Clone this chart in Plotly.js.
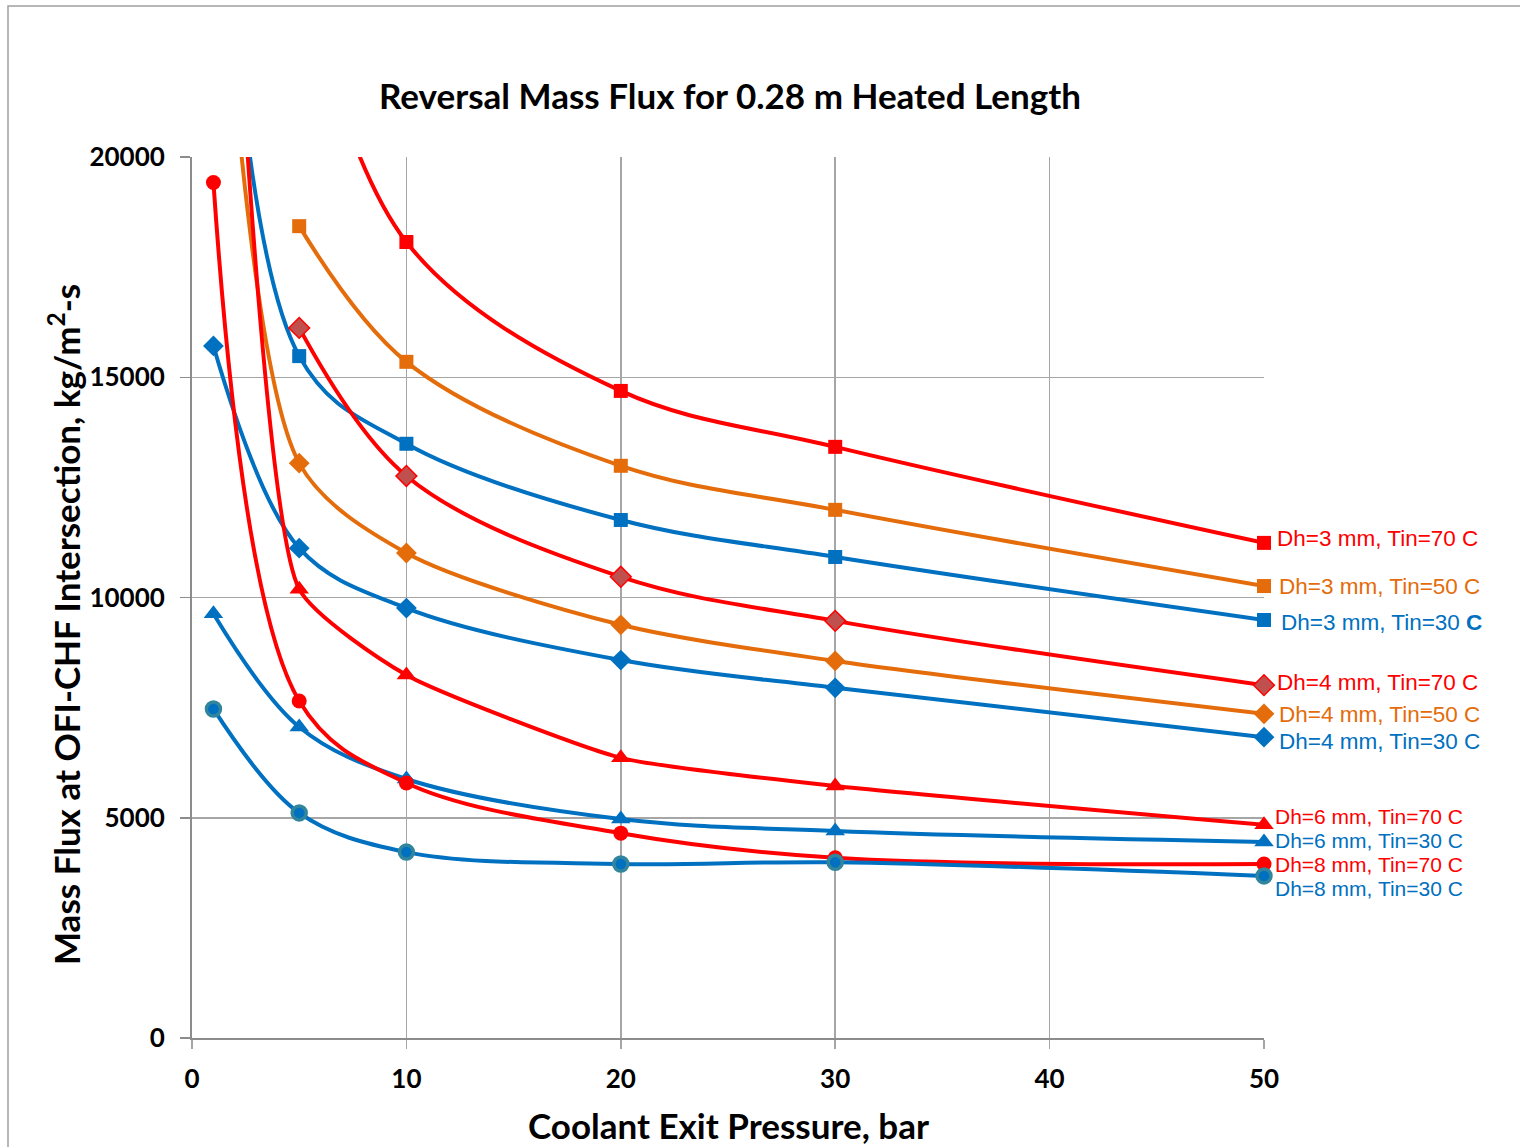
<!DOCTYPE html>
<html>
<head>
<meta charset="utf-8">
<script src="https://cdn.plot.ly/plotly-3.0.1.min.js"></script>
<style>body{margin:0;background:#fff;} #chart{width:1520px;height:1147px;}</style>
</head>
<body>
<div id="chart"></div>
<script>
// Coolant exit pressure, bar  /  Mass flux, kg/m2-s
const x_3mm_70 = [5, 10, 20, 30, 50];
const y_3mm_70 = [24500, 18070, 14690, 13420, 11240];
const x_3mm_50 = [5, 10, 20, 30, 50];
const y_3mm_50 = [18430, 15350, 12990, 11990, 10260];
const x_3mm_30 = [1, 5, 10, 20, 30, 50];
const y_3mm_30 = [31500, 15480, 13490, 11760, 10920, 9490];
const x_4mm_70 = [5, 10, 20, 30, 50];
const y_4mm_70 = [16120, 12760, 10470, 9470, 8010];
const x_4mm_50 = [1, 5, 10, 20, 30, 50];
const y_4mm_50 = [28000, 13050, 11010, 9380, 8560, 7360];
const x_4mm_30 = [1, 5, 10, 20, 30, 50];
const y_4mm_30 = [15710, 11120, 9760, 8580, 7950, 6830];
const x_6mm_70 = [1, 5, 10, 20, 30, 50];
const y_6mm_70 = [34000, 10190, 8240, 6360, 5720, 4840];
const x_6mm_30 = [1, 5, 10, 20, 30, 50];
const y_6mm_30 = [9630, 7060, 5880, 4970, 4700, 4450];
const x_8mm_70 = [1, 5, 10, 20, 30, 50];
const y_8mm_70 = [19420, 7650, 5790, 4650, 4090, 3950];
const x_8mm_30 = [1, 5, 10, 20, 30, 50];
const y_8mm_30 = [7470, 5110, 4220, 3950, 3990, 3680];

const seriesNames = ["Dh=3 mm, Tin=70 C", "Dh=3 mm, Tin=50 C", "Dh=3 mm, Tin=30 C",
  "Dh=4 mm, Tin=70 C", "Dh=4 mm, Tin=50 C", "Dh=4 mm, Tin=30 C",
  "Dh=6 mm, Tin=70 C", "Dh=6 mm, Tin=30 C", "Dh=8 mm, Tin=70 C", "Dh=8 mm, Tin=30 C"];
const labelTexts = ["Dh=3 mm, Tin=70 C", "Dh=3 mm, Tin=50 C", "Dh=3 mm, Tin=30 <b>C</b>",
  "Dh=4 mm, Tin=70 C", "Dh=4 mm, Tin=50 C", "Dh=4 mm, Tin=30 C",
  "Dh=6 mm, Tin=70 C", "Dh=6 mm, Tin=30 C", "Dh=8 mm, Tin=70 C", "Dh=8 mm, Tin=30 C"];

const YMAX = 20000;
const RED = "#FF0000", ORANGE = "#E46C0A", BLUE = "#0070C0";

function tr(x, y, name, color, symbol, size, smoothing, mfill, mline, mlw) {
  return {
    x: x, y: y, name: name, type: "scatter", mode: "lines+markers",
    line: {color: color, width: 4, shape: "spline", smoothing: smoothing},
    marker: {symbol: symbol, size: y.map(v => v > YMAX ? 0 : size), opacity: 1,
      color: mfill || color, line: {color: mline || color, width: mlw || 0}},
    cliponaxis: false, showlegend: false
  };
}

const data = [
  tr(x_3mm_70, y_3mm_70, seriesNames[0], RED, "square", 14, 1),
  tr(x_3mm_50, y_3mm_50, seriesNames[1], ORANGE, "square", 14, 1),
  tr(x_3mm_30, y_3mm_30, seriesNames[2], BLUE, "square", 14, 1),
  tr(x_4mm_70, y_4mm_70, seriesNames[3], RED, "diamond", 16, 1, "#C0504D", RED, 1.5),
  tr(x_4mm_50, y_4mm_50, seriesNames[4], ORANGE, "diamond", 16, 0.8),
  tr(x_4mm_30, y_4mm_30, seriesNames[5], BLUE, "diamond", 16, 1),
  tr(x_6mm_70, y_6mm_70, seriesNames[6], RED, "triangle-up", 17, 0.5),
  tr(x_6mm_30, y_6mm_30, seriesNames[7], BLUE, "triangle-up", 17, 1),
  tr(x_8mm_70, y_8mm_70, seriesNames[8], RED, "circle", 15, 1),
  tr(x_8mm_30, y_8mm_30, seriesNames[9], BLUE, "circle", 14, 1, BLUE, "#31859C", 3.5)
];

// plot area: left 192, right 1264, top 157, bottom 1038
const L = 192, R = 1264, T = 157, B = 1038;
const px = v => (v - L) / (R - L);
const py = v => (B - v) / (B - T);

const labelColors = [RED, ORANGE, BLUE, RED, ORANGE, BLUE, RED, BLUE, RED, BLUE];
const labelX = [1275, 1277, 1279, 1275, 1277, 1277, 1273, 1273, 1273, 1273];
const labelY = [538, 586, 622, 682, 715, 741, 816, 840, 864, 888];
const labelSize = [22.5, 22.5, 22.5, 22.5, 22.5, 22.5, 21, 21, 21, 21];

const annotations = labelTexts.map((t, i) => ({
  text: t, xref: "paper", yref: "paper", x: px(labelX[i]), y: py(labelY[i]),
  xanchor: "left", yanchor: "middle", showarrow: false,
  font: {family: "Liberation Sans, Arial, sans-serif", size: labelSize[i], color: labelColors[i]}
}));

annotations.push({
  text: "Mass Flux at OFI-CHF Intersection, kg/m<sup>2</sup>-s",
  xref: "paper", yref: "paper", x: px(64), y: py(625), textangle: -90,
  xanchor: "center", yanchor: "middle", showarrow: false,
  font: {family: "Lato, sans-serif", size: 35, color: "#000", weight: "bold"}
});
annotations.push({
  text: "Coolant Exit Pressure, bar",
  xref: "paper", yref: "paper", x: px(728), y: py(1125),
  xanchor: "center", yanchor: "middle", showarrow: false,
  font: {family: "Lato, sans-serif", size: 35, color: "#000", weight: "bold"}
});
annotations.push({
  text: "Reversal Mass Flux for 0.28 m Heated Length",
  xref: "paper", yref: "paper", x: px(730), y: py(95),
  xanchor: "center", yanchor: "middle", showarrow: false,
  font: {family: "Lato, sans-serif", size: 35, color: "#000", weight: "bold"}
});

const layout = {
  width: 1520, height: 1147,
  margin: {l: L, r: 1520 - R, t: T, b: 1147 - B, pad: 0},
  paper_bgcolor: "#fff", plot_bgcolor: "#fff",
  showlegend: false,
  xaxis: {
    range: [0, 50], tickvals: [0, 10, 20, 30, 40, 50], ticktext: ["0", "10", "20", "30", "40", "50"],
    showgrid: true, gridcolor: "#A6A6A6", gridwidth: 1.5,
    showline: true, linecolor: "#8C8C8C", linewidth: 2,
    ticks: "outside", ticklen: 9, tickcolor: "#A6A6A6", tickwidth: 1.5,
    zeroline: false,
    tickfont: {family: "Lato, sans-serif", size: 26, color: "#000", weight: "bold"},
    ticklabelstandoff: 8
  },
  yaxis: {
    range: [0, 20000], tickvals: [0, 5000, 10000, 15000, 20000], ticktext: ["0", "5000", "10000", "15000", "20000"],
    showgrid: true, gridcolor: "#A6A6A6", gridwidth: 1.5,
    showline: true, linecolor: "#8C8C8C", linewidth: 2,
    ticks: "outside", ticklen: 10, tickcolor: "#8C8C8C", tickwidth: 1.5,
    zeroline: false,
    tickfont: {family: "Lato, sans-serif", size: 26, color: "#000", weight: "bold"},
    ticklabelstandoff: 10
  },
  shapes: [{
    type: "rect", xref: "paper", yref: "paper", layer: "below",
    x0: px(8), x1: px(1560), y0: py(6), y1: py(1200),
    line: {color: "#A0A0A0", width: 1.5}, fillcolor: "rgba(0,0,0,0)"
  }],
  annotations: annotations
};

Plotly.newPlot("chart", data, layout, {displayModeBar: false, staticPlot: true});
</script>
</body>
</html>
